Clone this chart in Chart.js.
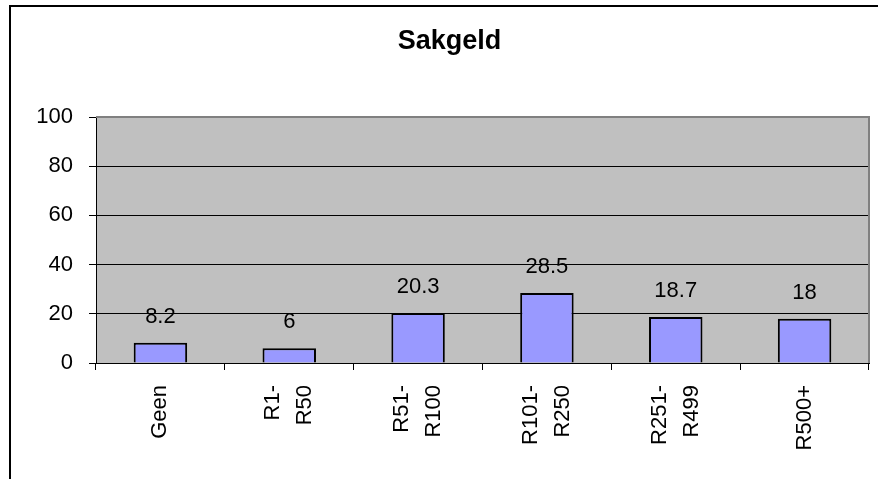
<!DOCTYPE html>
<html lang="af">
<head>
    <meta charset="UTF-8">
    <title>Sakgeld</title>
    <style>
        body {
            margin: 0;
            background-color: #fff;
            overflow: hidden;
        }

        #frame {
            position: absolute;
            left: 9px;
            top: 5px;
            width: 900px;
            height: 500px;
            border-top: 2px solid #000;
            border-left: 2px solid #000;
        }

        #chartContainer {
            position: absolute;
            left: 0;
            top: 0;
            width: 878px;
            height: 479px;
        }
    </style>
    <script src="https://cdn.jsdelivr.net/npm/chart.js"></script>
</head>
<body>
    <div id="frame"></div>
    <div id="chartContainer">
        <canvas id="sakgeldChart" width="878" height="479"></canvas>
    </div>

    <script>
        // data
        const categories = [['Geen'], ['R1-', 'R50'], ['R51-', 'R100'], ['R101-', 'R250'], ['R251-', 'R499'], ['R500+']];
        const values = [8.2, 6, 20.3, 28.5, 18.7, 18];
        const yTicks = [0, 20, 40, 60, 80, 100];

        const fontFamily = '"Liberation Sans", Arial, sans-serif';
        const labelSize = 22;
        const labelLineHeight = 1.45;

        // gray plot area with gray top/right edge
        const plotArea = {
            id: 'plotArea',
            beforeDraw(chart) {
                const { ctx, chartArea: a } = chart;
                ctx.save();
                ctx.fillStyle = '#C0C0C0';
                ctx.fillRect(a.left, a.top, a.right - a.left, a.bottom - a.top);
                ctx.restore();

                // center multi-line rotated labels on their tick
                const lh = labelSize * labelLineHeight;
                chart.scales.x.getLabelItems().forEach(item => {
                    if (item._shifted) return;
                    const lines = Array.isArray(item.label) ? item.label.length : 1;
                    item.options.translation[0] -= (lines - 1) * lh / 2;
                    item._shifted = true;
                });
            },
            afterDatasetsDraw(chart) {
                const { ctx, chartArea: a } = chart;
                ctx.save();
                ctx.strokeStyle = '#808080';
                ctx.lineWidth = 2;
                ctx.beginPath();
                ctx.moveTo(a.left, a.top);
                ctx.lineTo(a.right, a.top);
                ctx.lineTo(a.right, a.bottom);
                ctx.stroke();
                ctx.restore();
            }
        };

        // value labels above the bars
        const valueLabels = {
            id: 'valueLabels',
            afterDatasetsDraw(chart) {
                const { ctx } = chart;
                const meta = chart.getDatasetMeta(0);
                ctx.save();
                ctx.font = labelSize + 'px ' + fontFamily;
                ctx.fillStyle = '#000';
                ctx.textAlign = 'center';
                ctx.textBaseline = 'middle';
                meta.data.forEach((bar, i) => {
                    ctx.fillText(String(values[i]), bar.x, bar.y - 26);
                });
                ctx.restore();
            }
        };

        const ctx = document.getElementById('sakgeldChart').getContext('2d');
        new Chart(ctx, {
            type: 'bar',
            data: {
                labels: categories,
                datasets: [{
                    data: values,
                    backgroundColor: '#9999FF',
                    borderColor: '#000',
                    borderWidth: 2,
                    categoryPercentage: 1,
                    barPercentage: 0.415
                }]
            },
            options: {
                responsive: false,
                animation: false,
                // left padding moves the title centre right; y axis width below keeps the plot at x=96
                layout: { padding: { left: 30, right: 9, top: 0, bottom: 0 } },
                plugins: {
                    legend: { display: false },
                    tooltip: { enabled: false },
                    title: {
                        display: true,
                        text: 'Sakgeld',
                        color: '#000',
                        font: { family: fontFamily, size: 27, weight: 'bold', lineHeight: 1.2 },
                        padding: { top: 25, bottom: 59.6 }
                    }
                },
                scales: {
                    x: {
                        offset: true,
                        grid: {
                            offset: true,
                            drawOnChartArea: false,
                            color: '#000',
                            tickLength: 7,
                            tickWidth: 1
                        },
                        border: { color: '#000', width: 1 },
                        ticks: {
                            color: '#000',
                            maxRotation: 90,
                            minRotation: 90,
                            padding: 15,
                            font: { family: fontFamily, size: labelSize, lineHeight: labelLineHeight }
                        },
                        afterFit(scale) { scale.height = 116; }
                    },
                    y: {
                        min: 0,
                        max: 100,
                        afterBuildTicks(scale) { scale.ticks = yTicks.map(v => ({ value: v })); },
                        grid: {
                            color: c => (c.tick && c.tick.value === 100) ? '#808080' : '#000',
                            lineWidth: 1,
                            tickLength: 7,
                            tickColor: '#000'
                        },
                        border: { color: '#000', width: 1 },
                        ticks: {
                            color: '#000',
                            padding: 16,
                            font: { family: fontFamily, size: labelSize }
                        },
                        afterFit(scale) { scale.width = 66; }
                    }
                }
            },
            plugins: [plotArea, valueLabels]
        });
    </script>
</body>
</html>
